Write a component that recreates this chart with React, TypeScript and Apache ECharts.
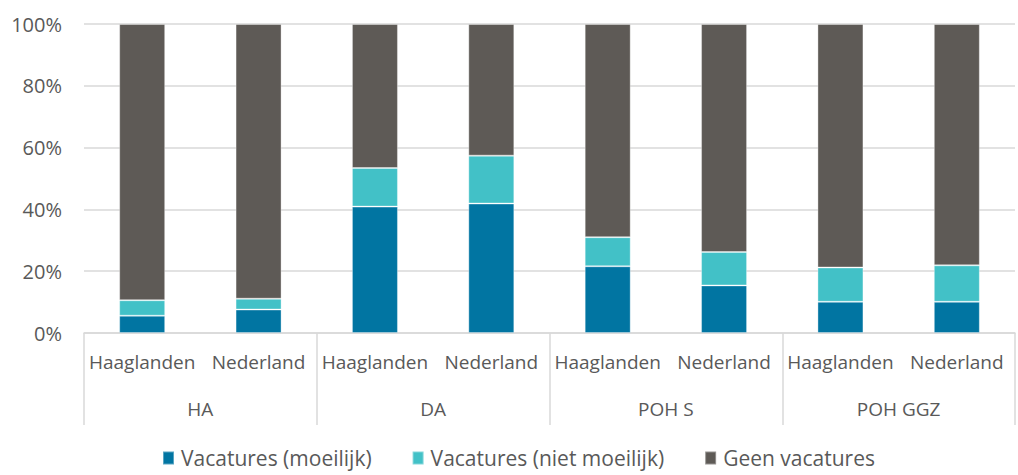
import React, { useEffect, useRef } from "react";
import * as echarts from "echarts";

const groups = ["HA", "DA", "POH S", "POH GGZ"];
const regions = ["Haaglanden", "Nederland"];
const categories = groups.flatMap(() => regions);
const moeilijk = [5.6, 7.6, 40.9, 41.9, 21.6, 15.4, 10.1, 10.1];
const nietMoeilijk = [5.0, 3.5, 12.5, 15.5, 9.4, 10.8, 11.1, 11.8];
const geen = moeilijk.map((v, i) => +(100 - v - nietMoeilijk[i]).toFixed(1));
const seriesNames = ["Vacatures (moeilijk)", "Vacatures (niet moeilijk)", "Geen vacatures"];
const colors = ["#0175A2", "#42C1C7", "#5E5A56"];

const FONT = "Open Sans";
const TEXT = "#595959";

export default function App() {
  const ref = useRef<HTMLDivElement>(null);
  useEffect(() => {
    if (!ref.current) return;
    const chart = echarts.init(ref.current, undefined, { renderer: "svg" });
    const mk = (name: string, data: number[], color: string) => ({
      name,
      type: "bar",
      stack: "total",
      data,
      barWidth: 46,
      itemStyle: { color, borderColor: "rgba(255,255,255,0.35)", borderWidth: 1 },
      xAxisIndex: 0,
      yAxisIndex: 0,
    });
    chart.setOption({
      animation: false,
      textStyle: { fontFamily: FONT },
      grid: { left: 84, right: 3, top: 24, bottom: 142, containLabel: false },
      legend: {
        top: 446,
        left: 162,
        padding: 0,
        itemWidth: 11,
        itemHeight: 13,
        itemGap: 40,
        icon: "rect",
        textStyle: { fontFamily: FONT, fontSize: 21, lineHeight: 24, color: TEXT, padding: [0, 0, 0, 2] },
        data: seriesNames,
      },
      xAxis: [
        {
          type: "category",
          data: categories,
          position: "bottom",
          axisLine: { show: true, lineStyle: { color: "#D9D9D9", width: 1.5 } },
          axisTick: { show: false },
          axisLabel: { color: TEXT, fontSize: 19, fontFamily: FONT, margin: 19, interval: 0 },
        },
        {
          type: "category",
          data: groups,
          position: "bottom",
          axisLine: { show: false },
          axisTick: { show: true, length: 92, lineStyle: { color: "#D9D9D9", width: 1.5 } },
          axisLabel: { color: TEXT, fontSize: 19, fontFamily: FONT, margin: 66, interval: 0 },
        },
      ],
      yAxis: {
        type: "value",
        min: 0,
        max: 100,
        interval: 20,
        axisLine: { show: false },
        axisTick: { show: false },
        splitLine: { lineStyle: { color: "#D9D9D9", width: 1.5 } },
        axisLabel: { color: TEXT, fontSize: 20, fontFamily: FONT, margin: 22, formatter: "{value}%" },
      },
      series: [
        mk(seriesNames[0], moeilijk, colors[0]),
        mk(seriesNames[1], nietMoeilijk, colors[1]),
        mk(seriesNames[2], geen, colors[2]),
      ],
    });
    return () => chart.dispose();
  }, []);
  return (
    <div
      ref={ref}
      style={{ position: "absolute", left: 0, top: 0, width: 1018, height: 475, background: "#fff" }}
    />
  );
}
